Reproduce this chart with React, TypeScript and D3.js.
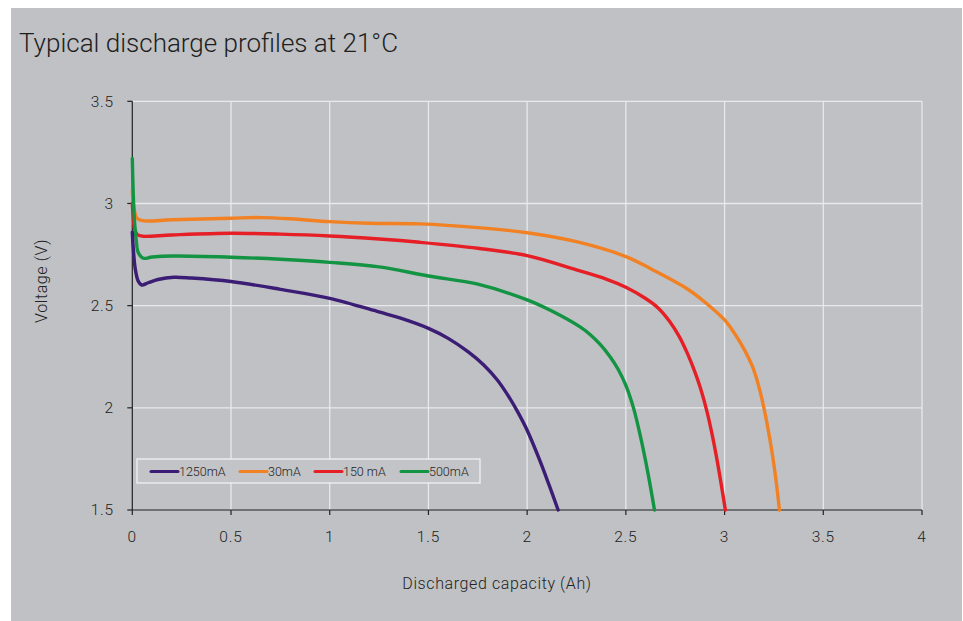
import React from "react";
import * as d3 from "d3";

// ---- data ----
const xTicks = [0, 0.5, 1, 1.5, 2, 2.5, 3, 3.5, 4];
const yTicks = [1.5, 2, 2.5, 3, 3.5];

const seriesNames = ["1250mA", "30mA", "150 mA", "500mA"];
const seriesColors = ["#3b1d75", "#f28123", "#e61e26", "#139443"];

const cap1250 = [0, 0.005, 0.015, 0.03, 0.047, 0.08, 0.13, 0.21, 0.3, 0.5, 0.75, 1.0, 1.254, 1.355, 1.5, 1.6, 1.7, 1.78, 1.85, 1.91, 1.955, 2.0, 2.063, 2.11, 2.157];
const volt1250 = [2.86, 2.78, 2.68, 2.62, 2.601, 2.612, 2.628, 2.639, 2.635, 2.618, 2.58, 2.536, 2.468, 2.44, 2.389, 2.34, 2.275, 2.21, 2.135, 2.05, 1.975, 1.89, 1.745, 1.625, 1.5];

const cap30 = [0, 0.005, 0.012, 0.022, 0.05, 0.2, 0.5, 0.647, 0.8, 1.0, 1.2, 1.456, 1.75, 2.0, 2.25, 2.5, 2.637, 2.806, 2.907, 3.0, 3.05, 3.1, 3.14, 3.165, 3.19, 3.215, 3.24, 3.26, 3.278];
const volt30 = [3.06, 3.0, 2.96, 2.93, 2.916, 2.92, 2.928, 2.931, 2.925, 2.911, 2.903, 2.9, 2.882, 2.857, 2.813, 2.74, 2.675, 2.585, 2.512, 2.43, 2.365, 2.285, 2.205, 2.134, 2.04, 1.924, 1.785, 1.65, 1.5];

const cap150 = [0, 0.005, 0.012, 0.025, 0.05, 0.2, 0.5, 0.75, 1.0, 1.25, 1.456, 1.75, 2.0, 2.25, 2.4, 2.5, 2.6, 2.662, 2.72, 2.77, 2.81, 2.85, 2.88, 2.91, 2.94, 2.97, 3.004];
const volt150 = [3.0, 2.93, 2.875, 2.848, 2.84, 2.846, 2.854, 2.85, 2.841, 2.826, 2.81, 2.781, 2.745, 2.675, 2.63, 2.59, 2.535, 2.49, 2.425, 2.35, 2.27, 2.175, 2.09, 1.985, 1.855, 1.7, 1.5];

const cap500 = [0, 0.004, 0.01, 0.02, 0.03, 0.056, 0.1, 0.209, 0.5, 0.75, 1.0, 1.25, 1.5, 1.75, 2.0, 2.13, 2.266, 2.32, 2.37, 2.42, 2.46, 2.5, 2.54, 2.575, 2.61, 2.645];
const volt500 = [3.22, 3.07, 2.93, 2.82, 2.76, 2.732, 2.738, 2.743, 2.737, 2.727, 2.712, 2.69, 2.645, 2.605, 2.528, 2.471, 2.397, 2.358, 2.31, 2.25, 2.19, 2.11, 1.995, 1.855, 1.69, 1.5];

const seriesCaps = [cap1250, cap30, cap150, cap500];
const seriesVolts = [volt1250, volt30, volt150, volt500];
const drawOrder = [1, 2, 3, 0];

const W = 963;
const H = 621;
const FONT = "Roboto, 'Liberation Sans', sans-serif";

export default function App() {
  const x = d3.scaleLinear().domain([0, 4]).range([132.3, 922]);
  const y = d3.scaleLinear().domain([1.5, 3.5]).range([510, 101.3]);

  const line = d3
    .line<[number, number]>()
    .x((d) => x(d[0]))
    .y((d) => y(d[1]))
    .curve(d3.curveCatmullRom.alpha(0.5));

  const paths = seriesCaps.map((caps, i) =>
    line(caps.map((c, j) => [c, seriesVolts[i][j]] as [number, number]))
  );

  const legendItems = [
    { lx: 151, tx: 179 },
    { lx: 240, tx: 268 },
    { lx: 315, tx: 343 },
    { lx: 401, tx: 429 },
  ];

  return (
    <svg
      width={W}
      height={H}
      style={{ position: "absolute", left: 0, top: 0, display: "block" }}
      fontFamily={FONT}
    >
      <rect x={0} y={0} width={W} height={H} fill="#ffffff" />
      <rect x={11} y={8} width={W - 12} height={H - 8} fill="#bfc1c4" />

      <text x={19} y={52} fontSize={26} fill="#1e1e1e" fontWeight={300}>
        Typical discharge profiles at 21°C
      </text>

      {/* grid */}
      <g stroke="#e8e9eb" strokeWidth={1.3}>
        {xTicks
          .filter((t) => t > 0)
          .map((t) => (
            <line key={"gx" + t} x1={x(t)} x2={x(t)} y1={y(3.5)} y2={y(1.5)} />
          ))}
        {yTicks
          .filter((t) => t > 1.5)
          .map((t) => (
            <line key={"gy" + t} x1={x(0)} x2={x(4)} y1={y(t)} y2={y(t)} />
          ))}
      </g>

      {/* axes */}
      <g stroke="#222" strokeWidth={1.2}>
        <line x1={x(0)} x2={x(0)} y1={y(3.5)} y2={y(1.5)} />
        <line x1={x(0)} x2={x(4)} y1={y(1.5)} y2={y(1.5)} />
        {yTicks.map((t) => (
          <line key={"ty" + t} x1={x(0) - 5} x2={x(0)} y1={y(t)} y2={y(t)} />
        ))}
        {xTicks.map((t) => (
          <line key={"tx" + t} x1={x(t)} x2={x(t)} y1={y(1.5)} y2={y(1.5) + 5} />
        ))}
      </g>

      <g fontSize={15.5} fill="#222" fontWeight={300} letterSpacing={0.8}>
        {yTicks.map((t) => (
          <text key={"ly" + t} x={114} y={y(t)} dy="0.35em" textAnchor="end">
            {String(t)}
          </text>
        ))}
        {xTicks.map((t) => (
          <text key={"lx" + t} x={x(t)} y={537} dy="0.35em" textAnchor="middle">
            {String(t)}
          </text>
        ))}
      </g>

      <text x={497} y={583} dy="0.35em" textAnchor="middle" fontSize={16} fill="#222" fontWeight={300} letterSpacing={0.6}>
        Discharged capacity (Ah)
      </text>
      <text
        transform="translate(41,281) rotate(-90)"
        dy="0.35em"
        textAnchor="middle"
        fontSize={16}
        fill="#222"
        fontWeight={300}
        letterSpacing={0.6}
      >
        Voltage (V)
      </text>

      {/* series */}
      <g fill="none" strokeWidth={3.4} strokeLinejoin="round" strokeLinecap="round">
        {drawOrder.map((i) => (
          <path key={"s" + i} d={paths[i] || ""} stroke={seriesColors[i]} />
        ))}
      </g>

      {/* legend */}
      <rect x={137} y={459} width={343} height={24} fill="#c2c4c7" stroke="#f2f2f2" strokeWidth={1.3} />
      {legendItems.map((it, i) => (
        <g key={"lg" + i}>
          <line x1={it.lx} x2={it.lx + 27} y1={471.5} y2={471.5} stroke={seriesColors[i]} strokeWidth={3} strokeLinecap="round" />
          <text x={it.tx} y={471.5} dy="0.35em" fontSize={12.5} fill="#222" fontWeight={300}>
            {seriesNames[i]}
          </text>
        </g>
      ))}
    </svg>
  );
}
